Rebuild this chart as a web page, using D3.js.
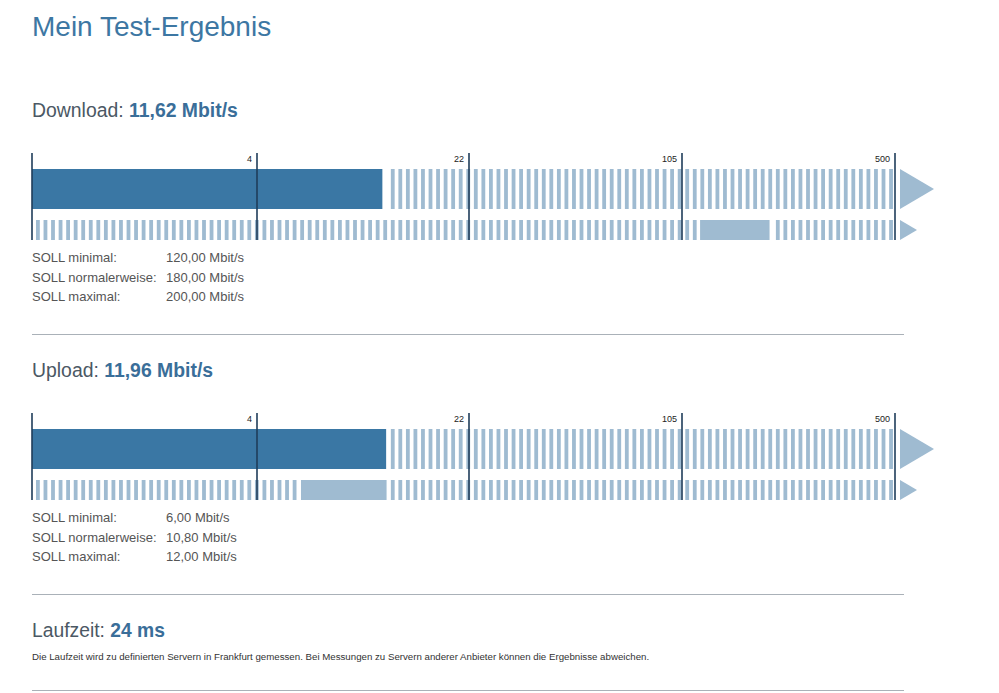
<!doctype html>
<html>
<head>
  <meta charset='utf-8'>
  <style>
    body { margin: 0; background: #fff; }
    svg text { font-family: 'Liberation Sans', Arial, sans-serif; }
    .tick-label { font-size: 9px; fill: #222; text-anchor: end; }
    .soll { font-size: 13px; fill: #555; }
  </style>
</head>
<body>
  <svg width='999' height='693'></svg>
  <script src='https://cdn.jsdelivr.net/npm/d3@7'></script>
  <script>
    // values
    var sections = ['Download', 'Upload'];
    var measured = [11.62, 11.96];          // Mbit/s
    var sollMin = [120, 6];
    var sollNormal = [180, 10.8];
    var sollMax = [200, 12];
    var sollLabels = ['SOLL minimal:', 'SOLL normalerweise:', 'SOLL maximal:'];
    var tickValues = [0, 4, 22, 105, 500];
    var tickLabels = ['', '4', '22', '105', '500'];
    var latency = 24;                       // ms
    var latencyNote = 'Die Laufzeit wird zu definierten Servern in Frankfurt gemessen. ' +
      'Bei Messungen zu Servern anderer Anbieter können die Ergebnisse abweichen.';

    var de = d3.formatLocale({decimal: ',', thousands: '.', grouping: [3], currency: ['', ' €']});
    var fmt = de.format(',.2f');

    var svg = d3.select('svg');
    var left = 32, right = 895;

    // piecewise scale, symlog inside each segment
    var x = d3.scaleSymlog()
      .constant(2)
      .domain(tickValues)
      .range([left, 257, 469, 682, right]);

    var dark = '#3a77a4', light = '#9fbbd1', line = '#1f3d5a';
    var pitch = 7.55, stripeW = 3.8;
    var stripes = d3.range(left + 4, right - 2, pitch);

    svg.append('text')
      .attr('x', left).attr('y', 36)
      .style('font-size', '28px').style('fill', '#3d77a3')
      .text('Mein Test-Ergebnis');

    sections.forEach(function(name, i) {
      var g = svg.append('g').attr('transform', 'translate(0,' + (i * 260) + ')');

      var head = g.append('text').attr('x', left).attr('y', 117)
        .style('font-size', '19.4px').style('fill', '#4b5864');
      head.append('tspan').text(name + ': ');
      head.append('tspan').style('font-weight', 'bold').style('fill', '#3a6e99')
        .text(fmt(measured[i]) + ' Mbit/s');

      // row 1: measured value
      var barEnd = x(measured[i]);
      g.append('rect')
        .attr('x', x(0)).attr('y', 169)
        .attr('width', barEnd - x(0)).attr('height', 40)
        .attr('fill', dark);
      g.selectAll('.s1')
        .data(stripes.filter(function(s) { return s > barEnd + 2; }))
        .enter().append('rect')
        .attr('class', 's1')
        .attr('x', function(d) { return d; }).attr('y', 169)
        .attr('width', stripeW).attr('height', 40)
        .attr('fill', light);

      // row 2: contracted range
      var r0 = x(sollMin[i]), r1 = x(sollMax[i]);
      g.append('rect')
        .attr('x', r0).attr('y', 220)
        .attr('width', r1 - r0).attr('height', 20)
        .attr('fill', light);
      g.selectAll('.s2')
        .data(stripes.filter(function(s) { return s + stripeW < r0 - 2 || s > r1 + 2; }))
        .enter().append('rect')
        .attr('class', 's2')
        .attr('x', function(d) { return d; }).attr('y', 220)
        .attr('width', stripeW).attr('height', 20)
        .attr('fill', light);

      // arrows
      g.append('path')
        .attr('d', 'M' + (right + 5) + ',169L' + (right + 39) + ',189L' + (right + 5) + ',209Z')
        .attr('fill', light);
      g.append('path')
        .attr('d', 'M' + (right + 5) + ',220L' + (right + 22) + ',230L' + (right + 5) + ',240Z')
        .attr('fill', light);

      // tick lines and labels
      g.selectAll('.tl')
        .data(tickValues)
        .enter().append('line')
        .attr('x1', function(d) { return x(d); }).attr('x2', function(d) { return x(d); })
        .attr('y1', 153).attr('y2', 240)
        .attr('stroke', line).attr('stroke-width', 1.6);
      g.selectAll('.tick-label')
        .data(tickValues)
        .enter().append('text')
        .attr('class', 'tick-label')
        .attr('x', function(d) { return x(d) - 5; })
        .attr('y', 162)
        .text(function(d, j) { return tickLabels[j]; });

      var vals = [sollMin[i], sollNormal[i], sollMax[i]];
      sollLabels.forEach(function(lab, j) {
        g.append('text').attr('class', 'soll')
          .attr('x', left).attr('y', 262 + j * 19.5).text(lab);
        g.append('text').attr('class', 'soll')
          .attr('x', 166).attr('y', 262 + j * 19.5).text(fmt(vals[j]) + ' Mbit/s');
      });

      g.append('line')
        .attr('x1', left).attr('x2', 904)
        .attr('y1', 334.5).attr('y2', 334.5)
        .attr('stroke', '#aab1b8').attr('stroke-width', 1.2);
    });

    var lat = svg.append('text').attr('x', left).attr('y', 637)
      .style('font-size', '19.3px').style('fill', '#4b5864');
    lat.append('tspan').text('Laufzeit: ');
    lat.append('tspan').style('font-weight', 'bold').style('fill', '#3a6e99')
      .text(latency + ' ms');

    svg.append('text').attr('x', left).attr('y', 660)
      .style('font-size', '9.7px').style('fill', '#333')
      .text(latencyNote);

    svg.append('line')
      .attr('x1', left).attr('x2', 904)
      .attr('y1', 690.5).attr('y2', 690.5)
      .attr('stroke', '#aab1b8').attr('stroke-width', 1.2);
  </script>
</body>
</html>
